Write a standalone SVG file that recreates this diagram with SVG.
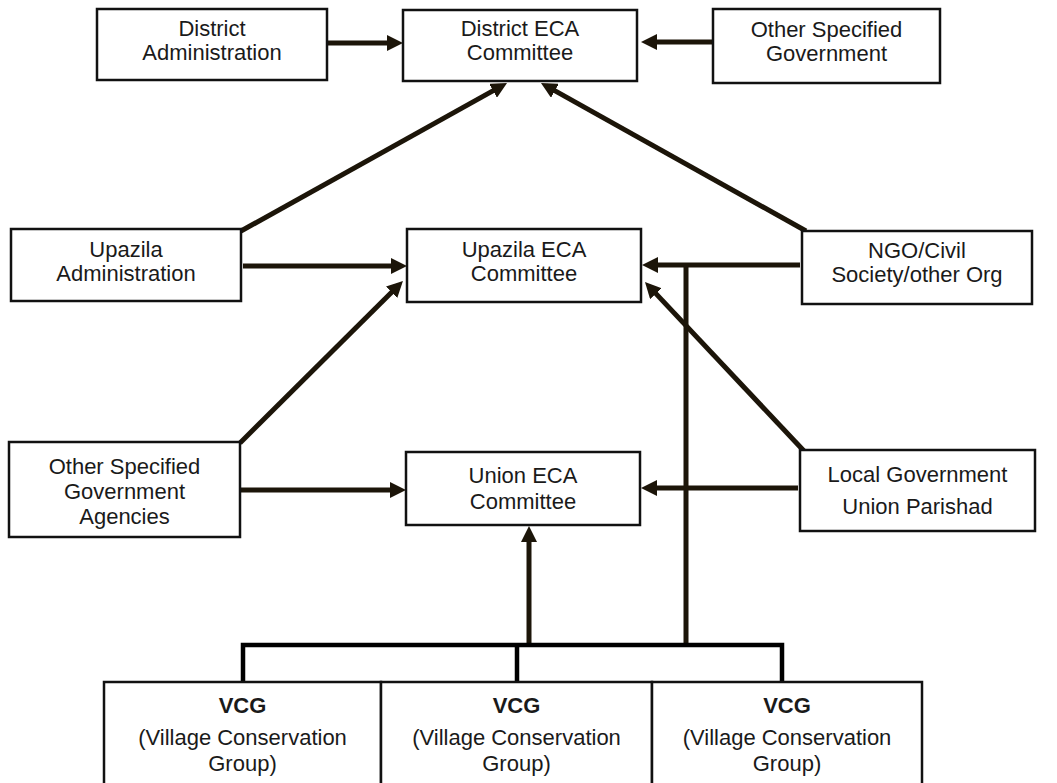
<svg xmlns="http://www.w3.org/2000/svg" width="1057" height="783" viewBox="0 0 1057 783">
  <style>
    .box { fill: #ffffff; stroke: #111111; stroke-width: 2.5; }
    .lbl { font-family: "Liberation Sans", Arial, sans-serif; font-size: 22px; fill: #1a1a1a; text-anchor: middle; }
    .b { font-weight: bold; }
    .arr { stroke: #1c1509; stroke-width: 5; fill: none; marker-end: url(#head); }
    .line { stroke: #1c1509; stroke-width: 5; fill: none; }
    .bus { stroke: #000000; stroke-width: 4.5; fill: none; stroke-linejoin: miter; }
  </style>
  <defs>
    <marker id="head" markerUnits="userSpaceOnUse" markerWidth="16" markerHeight="16" refX="10" refY="8" orient="auto">
      <path d="M0,0 L16,8 L0,16 Z" fill="#1c1509"/>
    </marker>
  </defs>
  <rect width="1057" height="783" fill="#ffffff"/>

  <!-- connectors -->
  <g id="connectors">
    <!-- top row into District ECA Committee -->
    <line class="arr" x1="328" y1="43" x2="397" y2="43"/>
    <line class="arr" x1="713" y1="42" x2="647" y2="42"/>
    <line class="arr" x1="241" y1="231" x2="501.8" y2="85.9"/>
    <line class="arr" x1="806" y1="231" x2="546.2" y2="85.9"/>
    <!-- middle row into Upazila ECA Committee -->
    <line class="arr" x1="243" y1="266" x2="401" y2="266"/>
    <line class="arr" x1="800" y1="265" x2="648" y2="265"/>
    <line class="arr" x1="240" y1="443" x2="398.7" y2="285.2"/>
    <line class="arr" x1="804" y1="451" x2="649.1" y2="286.4"/>
    <!-- bottom row into Union ECA Committee -->
    <line class="arr" x1="241" y1="490" x2="400" y2="490"/>
    <line class="arr" x1="798" y1="488" x2="647" y2="488"/>
    <line class="arr" x1="529" y1="645" x2="529" y2="532"/>
    <!-- VCG link up to the Upazila arrow -->
    <line class="line" x1="686" y1="265" x2="686" y2="645"/>
    <!-- VCG bus -->
    <path class="bus" d="M243,682 V645 H782 V682 M517,645 V682"/>
  </g>

  <g id="district-admin">
    <rect class="box" x="97" y="9" width="230" height="71"/>
    <text class="lbl" x="212" y="36">District</text>
    <text class="lbl" x="212" y="60">Administration</text>
  </g>
  <g id="district-eca">
    <rect class="box" x="403" y="10" width="234" height="71"/>
    <text class="lbl" x="520" y="36">District ECA</text>
    <text class="lbl" x="520" y="60">Committee</text>
  </g>
  <g id="other-gov">
    <rect class="box" x="713" y="9" width="227" height="74"/>
    <text class="lbl" x="826.5" y="37">Other Specified</text>
    <text class="lbl" x="826.5" y="61">Government</text>
  </g>

  <g id="upazila-admin">
    <rect class="box" x="11" y="229" width="230" height="72"/>
    <text class="lbl" x="126" y="257">Upazila</text>
    <text class="lbl" x="126" y="281">Administration</text>
  </g>
  <g id="upazila-eca">
    <rect class="box" x="407" y="229" width="234" height="73"/>
    <text class="lbl" x="524" y="257">Upazila ECA</text>
    <text class="lbl" x="524" y="281">Committee</text>
  </g>
  <g id="ngo">
    <rect class="box" x="802" y="231" width="230" height="73"/>
    <text class="lbl" x="917" y="258">NGO/Civil</text>
    <text class="lbl" x="917" y="282">Society/other Org</text>
  </g>

  <g id="other-gov-agencies">
    <rect class="box" x="9" y="442" width="231" height="95"/>
    <text class="lbl" x="124.5" y="474">Other Specified</text>
    <text class="lbl" x="124.5" y="499">Government</text>
    <text class="lbl" x="124.5" y="524">Agencies</text>
  </g>
  <g id="union-eca">
    <rect class="box" x="406" y="452" width="234" height="73"/>
    <text class="lbl" x="523" y="483">Union ECA</text>
    <text class="lbl" x="523" y="509">Committee</text>
  </g>
  <g id="local-gov">
    <rect class="box" x="800" y="450" width="235" height="81"/>
    <text class="lbl" x="917.5" y="482">Local Government</text>
    <text class="lbl" x="917.5" y="514">Union Parishad</text>
  </g>

  <g id="vcg-1">
    <rect class="box" x="104" y="682" width="277" height="110"/>
    <text class="lbl b" x="242.5" y="713">VCG</text>
    <text class="lbl" x="242.5" y="745">(Village Conservation</text>
    <text class="lbl" x="242.5" y="771">Group)</text>
  </g>
  <g id="vcg-2">
    <rect class="box" x="381" y="682" width="271" height="110"/>
    <text class="lbl b" x="516.5" y="713">VCG</text>
    <text class="lbl" x="516.5" y="745">(Village Conservation</text>
    <text class="lbl" x="516.5" y="771">Group)</text>
  </g>
  <g id="vcg-3">
    <rect class="box" x="652" y="682" width="270" height="110"/>
    <text class="lbl b" x="787" y="713">VCG</text>
    <text class="lbl" x="787" y="745">(Village Conservation</text>
    <text class="lbl" x="787" y="771">Group)</text>
  </g>
</svg>
